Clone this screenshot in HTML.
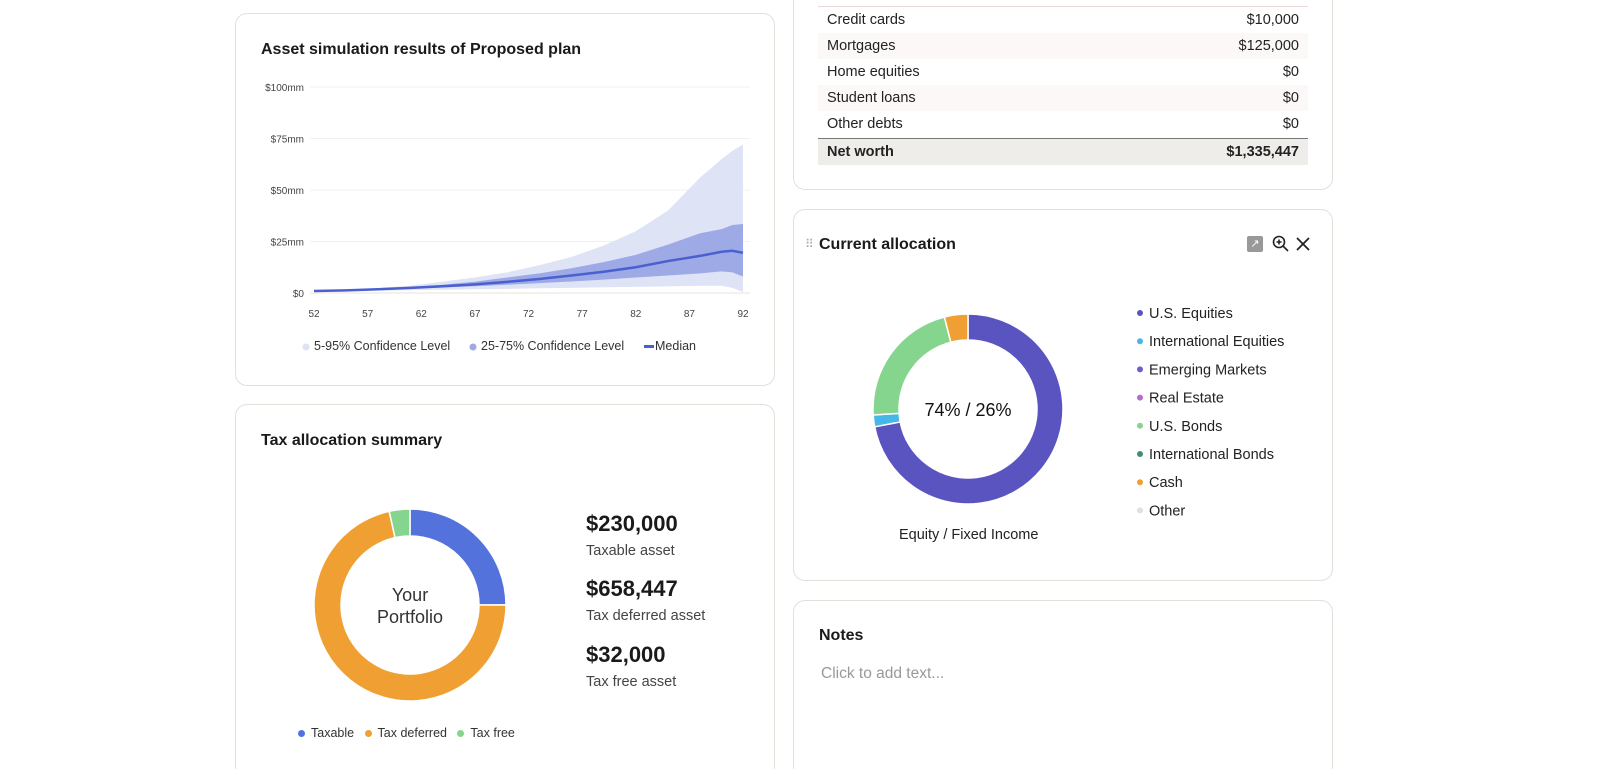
<!DOCTYPE html>
<html><head><meta charset="utf-8">
<style>
*{box-sizing:border-box;margin:0;padding:0}
html,body{width:1600px;height:769px;overflow:hidden}
body{background:#fff;font-family:"Liberation Sans",sans-serif;color:#1a1a1a;position:relative}
.card{position:absolute;border:1px solid #e2e0d8;border-radius:12px;background:#fff}
.title{position:absolute;font-size:16px;font-weight:bold;color:#1a1a1a}
.row{position:absolute;left:24px;width:490px;height:26px;font-size:14.5px;line-height:26px;padding:0 9px;color:#222}
.row span{float:right}
.alt{background:#fcf8f7}
.leg{position:absolute;font-size:14.5px;color:#333}
.dot{display:inline-block;width:7px;height:7px;border-radius:50%;margin-right:6px;vertical-align:middle}
</style></head><body>

<div class="card" style="left:235px;top:13px;width:540px;height:373px">
  <div class="title" style="left:25px;top:27px">Asset simulation results of Proposed plan</div>
</div>
<svg id="sim" style="position:absolute;left:0;top:0" width="800" height="400"></svg>

<div class="card" style="left:235px;top:404px;width:540px;height:380px">
  <div class="title" style="left:25px;top:27px">Tax allocation summary</div>
  <div style="position:absolute;left:350px;top:106px;font-size:22px;font-weight:bold">$230,000</div>
  <div style="position:absolute;left:350px;top:138px;font-size:14.5px;color:#444">Taxable asset</div>
  <div style="position:absolute;left:350px;top:171px;font-size:22px;font-weight:bold">$658,447</div>
  <div style="position:absolute;left:350px;top:203px;font-size:14.5px;color:#444">Tax deferred asset</div>
  <div style="position:absolute;left:350px;top:237px;font-size:22px;font-weight:bold">$32,000</div>
  <div style="position:absolute;left:350px;top:269px;font-size:14.5px;color:#444">Tax free asset</div>
  <div class="leg" style="left:62px;top:321px;font-size:12.5px">
    <span><i class="dot" style="background:#5472dc"></i>Taxable</span>&nbsp;&nbsp;
    <span><i class="dot" style="background:#f0a033"></i>Tax deferred</span>&nbsp;&nbsp;
    <span><i class="dot" style="background:#86d58e"></i>Tax free</span>
  </div>
</div>

<div class="card" style="left:793px;top:-20px;width:540px;height:210px">
  <div style="position:absolute;left:24px;top:25px;width:490px;border-top:1px solid #e8d8d5"></div>
  <div class="row" style="top:26px">Credit cards<span>$10,000</span></div>
  <div class="row alt" style="top:52px">Mortgages<span>$125,000</span></div>
  <div class="row" style="top:78px">Home equities<span>$0</span></div>
  <div class="row alt" style="top:104px">Student loans<span>$0</span></div>
  <div class="row" style="top:130px">Other debts<span>$0</span></div>
  <div class="row" style="top:157px;height:27px;background:#efedea;border-top:1px solid #777;font-weight:bold">Net worth<span>$1,335,447</span></div>
</div>

<div class="card" style="left:793px;top:209px;width:540px;height:372px">
  <div style="position:absolute;left:11px;top:27px;color:#aaa;font-size:12px;letter-spacing:-2px">⠿</div>
  <div class="title" style="left:25px;top:26px">Current allocation</div>
  <div style="position:absolute;left:453px;top:26px;width:16px;height:16px;background:#999;border-radius:2px;color:#fff;font-size:11px;text-align:center;line-height:16px">↗</div>
  <svg style="position:absolute;left:478px;top:25px" width="18" height="18"><circle cx="7" cy="7" r="5.5" fill="none" stroke="#222" stroke-width="1.6"/><path d="M11 11L16 16M7 4.5V9.5M4.5 7H9.5" stroke="#222" stroke-width="1.6"/></svg>
  <svg style="position:absolute;left:502px;top:27px" width="14" height="14"><path d="M1 1L13 13M13 1L1 13" stroke="#222" stroke-width="1.8"/></svg>
  <div class="leg" style="left:105px;top:317px;font-size:14.5px;color:#222">Equity / Fixed Income</div>
</div>
<svg id="alloc" style="position:absolute;left:0;top:0" width="1600" height="769"></svg>

<div class="card" style="left:793px;top:600px;width:540px;height:180px">
  <div class="title" style="left:25px;top:26px">Notes</div>
  <div style="position:absolute;left:27px;top:64px;font-size:15.5px;color:#999">Click to add text...</div>
</div>

<script>
const NS="http://www.w3.org/2000/svg";
function mk(p,t,a){const e=document.createElementNS(NS,t);for(const k in a)e.setAttribute(k,a[k]);p.appendChild(e);return e;}

// ---- Simulation chart data ----
const ages=[52,55,58,61,64,67,70,73,76,79,82,85,88,90,91,92];
const p95=[1,1.5,2.5,3.5,5.5,7.5,10,13.5,17.5,23,30,40,56,65,69,72];
const p75=[1,1.3,2,3,4,5.5,7.5,9.5,12,15,18.5,23.5,29,31,33,33.5];
const median=[1,1.3,1.8,2.5,3.3,4.2,5.4,6.8,8.5,10.3,12.5,15.5,18,20,20.5,19.5];
const p25=[1,1.2,1.6,2.1,2.7,3.3,4,4.8,5.6,6.5,7.5,8.5,9.5,10.5,10,8];
const p5=[1,1,1.2,1.4,1.6,1.8,2,2.3,2.5,2.8,3,3.2,3.5,3.5,2.5,0.5];
const yTicks=[0,25,50,75,100];
const yTickLabels=["$0","$25mm","$50mm","$75mm","$100mm"];
const xTicks=[52,57,62,67,72,77,82,87,92];

const sim=document.getElementById('sim');
const X=a=>314+(a-52)*(743-314)/40;
const Y=v=>293-v*(293-87)/100;
yTicks.forEach((t,i)=>{
  const g=mk(sim,'line',{x1:310,x2:750,y1:Y(t),y2:Y(t),stroke:t==0?'#e6e3da':'#f1f0ec','stroke-width':1});
  
  
  const tx=mk(sim,'text',{x:304,y:Y(t)+4,'text-anchor':'end','font-size':10,fill:'#444','font-family':'Liberation Sans'});
  tx.textContent=yTickLabels[i];
  
  
});
xTicks.forEach(t=>{
  const tx=mk(sim,'text',{x:X(t),y:317,'text-anchor':'middle','font-size':10,fill:'#444','font-family':'Liberation Sans'});
  tx.textContent=t;
  
  
});
function band(hi,lo,fill,name){
  let d='M'+ages.map((a,i)=>X(a)+','+Y(hi[i])).join('L');
  for(let i=ages.length-1;i>=0;i--)d+='L'+X(ages[i])+','+Y(lo[i]);
  const p=mk(sim,'path',{d:d+'Z',fill:fill});
  
  
}
band(p95,p5,'#dfe3f6','band-5-95');
band(p75,p25,'#9eaae6','band-25-75');
const ml=mk(sim,'path',{d:'M'+ages.map((a,i)=>X(a)+','+Y(median[i])).join('L'),fill:'none',stroke:'#4a5fd0','stroke-width':2.5});


const legItems=[["5-95% Confidence Level",'#dfe3f6',303,'c'],["25-75% Confidence Level",'#9eaae6',470,'c'],["Median",'#4a5fd0',644,'l']];
legItems.forEach(l=>{
  if(l[3]=='c')mk(sim,'circle',{cx:l[2]+3,cy:347,r:3.5,fill:l[1]});
  else mk(sim,'rect',{x:l[2],y:345,width:10,height:3,fill:l[1]});
  const tx=mk(sim,'text',{x:l[2]+11,y:350,'font-size':12.5,fill:'#333','font-family':'Liberation Sans'});
  tx.textContent=l[0];
  
  
});

// ---- Donuts ----
function arc(cx,cy,r0,r1,a0,a1){
  const p=(r,a)=>[cx+r*Math.sin(a),cy-r*Math.cos(a)];
  const L=(a1-a0)>Math.PI?1:0;
  const [x0,y0]=p(r1,a0),[x1,y1]=p(r1,a1),[x2,y2]=p(r0,a1),[x3,y3]=p(r0,a0);
  return `M${x0},${y0}A${r1},${r1} 0 ${L} 1 ${x1},${y1}L${x2},${y2}A${r0},${r0} 0 ${L} 0 ${x3},${y3}Z`;
}
const taxLabels=["Taxable","Tax deferred","Tax free"];
const taxValues=[230000,658447,32000];
const taxColors=['#5472dc','#f0a033','#86d58e'];
const allocLabels=["U.S. Equities","International Equities","Emerging Markets","Real Estate","U.S. Bonds","International Bonds","Cash","Other"];
const allocValues=[72,2,0,0,22,0,4,0];
const allocColors=['#5a54c0','#46b8e8','#6a5fc8','#b66bd0','#86d58e','#3f8f72','#f0a033','#e0e0e0'];

const al=document.getElementById('alloc');
function donut(vals,cols,cx,cy,r0,r1,name){
  const tot=vals.reduce((a,b)=>a+b,0);let a=0;
  vals.forEach((v,i)=>{
    if(!v)return;
    const a1=a+v/tot*2*Math.PI;
    const p=mk(al,'path',{d:arc(cx,cy,r0,r1,a,a1),fill:cols[i],stroke:'#fff','stroke-width':1.5});
    
    
    a=a1;
  });
}
donut(taxValues,taxColors,410,605,69,96,'tax');
donut(allocValues,allocColors,968,409,69,95,'allocation');
const t1=mk(al,'text',{x:410,y:601,'text-anchor':'middle','font-size':18,fill:'#333','font-family':'Liberation Sans'});t1.textContent='Your';


const t2=mk(al,'text',{x:410,y:623,'text-anchor':'middle','font-size':18,fill:'#333','font-family':'Liberation Sans'});t2.textContent='Portfolio';


const t3=mk(al,'text',{x:968,y:416,'text-anchor':'middle','font-size':18,fill:'#111','font-family':'Liberation Sans'});t3.textContent='74% / 26%';


allocLabels.forEach((l,i)=>{
  const y=313+i*28.2;
  const c=mk(al,'circle',{cx:1140,cy:y,r:3,fill:allocColors[i]});
  
  
  const tx=mk(al,'text',{x:1149,y:y+5,'font-size':14.5,fill:'#222','font-family':'Liberation Sans'});
  tx.textContent=l;
  
  
});
</script>
</body></html>
